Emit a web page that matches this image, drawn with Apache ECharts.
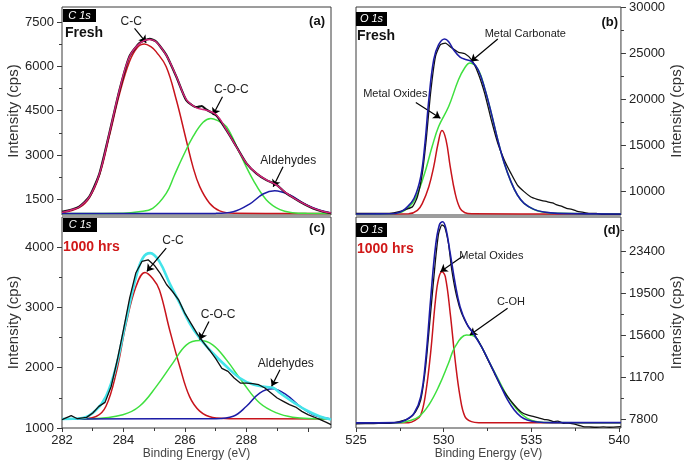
<!DOCTYPE html>
<html>
<head>
<meta charset="utf-8">
<script src="https://cdn.jsdelivr.net/npm/echarts@6/dist/echarts.min.js"></script>
<style>html,body{margin:0;padding:0;background:#fff;}#c{width:685px;height:472px;}</style>
</head>
<body>
<div id="c"></div>
<script>
// ---------- Panel (a): C 1s Fresh ----------
var a_data = [[282.0,1080],[282.3,1150],[282.56,1250],[282.89,1590],[283.22,2380],[283.54,3735],[283.87,5200],[284.19,6330],[284.52,6790],[284.85,6930],[285.06,6840],[285.39,6390],[285.72,5650],[286.04,4860],[286.37,4620],[286.55,4660],[286.69,4540],[287.02,4340],[287.35,3840],[287.67,3290],[288.0,2720],[288.33,2370],[288.65,2150],[288.98,1990],[289.3,1700],[289.74,1420],[290.17,1190],[290.5,1080],[290.75,1030]];
var a_fit = [[282.0,1060],[282.3,1140],[282.56,1240],[282.89,1580],[283.22,2370],[283.54,3730],[283.87,5200],[284.19,6320],[284.52,6770],[284.85,6910],[285.06,6830],[285.39,6380],[285.72,5660],[286.04,4880],[286.37,4600],[286.69,4520],[287.02,4360],[287.35,3850],[287.67,3280],[288.0,2720],[288.33,2380],[288.65,2160],[288.98,1980],[289.3,1710],[289.74,1420],[290.17,1200],[290.5,1090],[290.75,1040]];
var a_cc = [[282.0,1050],[282.56,1220],[282.89,1550],[283.22,2320],[283.54,3640],[283.87,5060],[284.19,6150],[284.45,6640],[284.68,6760],[284.9,6660],[285.06,6500],[285.39,5990],[285.72,4860],[286.04,3510],[286.26,2600],[286.48,1930],[286.8,1370],[287.13,1110],[287.6,1030],[290.75,1020]];
var a_coc = [[282.0,1020],[284.0,1030],[284.5,1080],[284.95,1195],[285.39,1700],[285.65,2300],[285.93,2940],[286.26,3620],[286.59,4110],[286.84,4240],[287.05,4170],[287.35,3960],[287.78,3060],[288.22,2150],[288.65,1480],[289.09,1150],[289.5,1050],[290.0,1025],[290.75,1020]];
var a_ald = [[282.0,1020],[287.0,1025],[287.57,1080],[288.1,1340],[288.54,1680],[288.92,1790],[289.41,1645],[289.96,1310],[290.39,1130],[290.75,1040]];

// ---------- Panel (b): O 1s Fresh ----------
var b_data = [[525.0,7570],[526.0,7560],[526.9,7570],[527.47,7750],[527.84,8000],[528.22,8290],[528.5,9380],[528.78,11920],[529.0,15550],[529.25,20640],[529.53,24630],[529.81,25900],[530.09,26080],[530.46,25540],[530.84,25070],[531.21,24920],[531.58,24270],[531.96,22810],[532.33,20640],[532.71,17730],[533.08,15190],[533.45,13380],[533.83,11920],[534.2,10650],[534.58,9930],[534.95,9380],[535.33,9090],[535.6,8950],[535.89,8840],[536.2,8700],[536.45,8480],[536.7,8350],[537.0,8110],[537.3,8000],[537.57,7820],[537.9,7700],[538.32,7570],[538.7,7560],[539.07,7460],[540.1,7460]];
var b_fit = [[525.0,7500],[527.0,7520],[527.5,7700],[527.84,8110],[528.31,9200],[528.69,11560],[528.93,15190],[529.15,19910],[529.43,24270],[529.71,25900],[530.05,26520],[530.27,26260],[530.56,25360],[530.93,24560],[531.3,24270],[531.58,24080],[531.96,23180],[532.33,21180],[532.71,18460],[533.08,15550],[533.45,13010],[533.83,11020],[534.2,9560],[534.58,8660],[535.14,8000],[535.7,7710],[536.5,7570],[540.1,7500]];
var b_mo = [[525.0,7500],[528.0,7520],[528.5,7900],[528.78,8660],[529.15,10470],[529.43,12650],[529.68,15190],[529.9,16570],[530.13,15550],[530.37,12650],[530.65,9750],[530.93,8110],[531.21,7640],[531.6,7520],[540.1,7500]];
var b_mc = [[525.0,7500],[527.0,7520],[527.66,7750],[528.22,8660],[528.59,10110],[528.97,12290],[529.34,14830],[529.71,17010],[530.28,19180],[530.84,22090],[531.2,23400],[531.49,23900],[531.96,23200],[532.33,21180],[532.71,18460],[533.08,15550],[533.45,13010],[533.83,11020],[534.2,9560],[534.58,8660],[535.33,7860],[536.5,7570],[540.1,7500]];

// ---------- Panel (c): C 1s 1000 hrs ----------
var c_data = [[282.0,1138],[282.3,1204],[282.5,1154],[282.8,1176],[283.0,1249],[283.2,1359],[283.4,1425],[283.6,1690],[283.8,2132],[284.0,2630],[284.2,3155],[284.4,3570],[284.6,3763],[284.8,3790],[285.0,3700],[285.2,3560],[285.4,3380],[285.6,3260],[285.8,3120],[286.0,2900],[286.2,2730],[286.4,2560],[286.6,2420],[286.8,2290],[287.0,2150],[287.2,1990],[287.4,1939],[287.6,1829],[287.8,1746],[288.0,1746],[288.2,1735],[288.4,1718],[288.6,1663],[288.8,1580],[289.0,1497],[289.2,1442],[289.4,1387],[289.6,1348],[289.8,1276],[290.0,1221],[290.2,1182],[290.4,1138],[290.6,1094],[290.75,1055]];
var c_fit = [[282.0,1150],[282.67,1165],[283.11,1300],[283.43,1520],[283.76,2020],[284.09,2800],[284.41,3510],[284.63,3820],[284.87,3900],[285.17,3760],[285.5,3400],[285.83,3070],[286.15,2740],[286.48,2490],[286.91,2240],[287.35,2020],[287.78,1830],[288.22,1720],[288.65,1680],[288.85,1670],[289.09,1580],[289.52,1430],[289.96,1290],[290.39,1190],[290.75,1140]];
var c_cc = [[282.0,1150],[282.67,1155],[283.11,1190],[283.43,1360],[283.76,1910],[284.09,2740],[284.41,3350],[284.7,3580],[284.95,3480],[285.17,3290],[285.5,2630],[285.83,2020],[286.15,1520],[286.48,1280],[286.9,1175],[287.5,1155],[290.75,1150]];
var c_coc = [[282.0,1150],[283.0,1155],[283.98,1220],[284.52,1360],[285.07,1690],[285.61,2080],[286.05,2380],[286.48,2450],[286.9,2380],[287.35,2130],[287.89,1750],[288.43,1415],[288.98,1250],[289.5,1180],[290.2,1155],[290.75,1150]];
var c_ald = [[282.0,1150],[287.0,1155],[287.57,1195],[288.0,1360],[288.43,1580],[288.85,1650],[289.3,1550],[289.74,1360],[290.17,1220],[290.75,1150]];

// ---------- Panel (d): O 1s 1000 hrs ----------
var d_data = [[525.0,7340],[526.0,7380],[526.9,7400],[527.47,7550],[528.03,7860],[528.4,8480],[528.69,9570],[528.97,12660],[529.25,17620],[529.53,22570],[529.71,25050],[529.9,25830],[530.05,25670],[530.27,24120],[530.46,21640],[530.74,19170],[531.02,17620],[531.4,16380],[531.77,15600],[532.15,14520],[532.52,13280],[532.89,12040],[533.27,10800],[533.64,9880],[534.02,9100],[534.39,8480],[534.76,8170],[535.14,8020],[535.4,7900],[535.7,7770],[536.0,7700],[536.26,7550],[536.5,7600],[536.82,7400],[537.1,7420],[537.38,7340],[537.94,7090],[538.3,7060],[538.69,7030],[539.1,7060],[539.44,7030],[540.1,7090]];
var d_fit = [[525.0,7440],[527.28,7460],[527.84,7710],[528.31,8330],[528.69,9880],[528.97,13280],[529.25,18860],[529.53,23810],[529.75,25830],[529.94,26130],[530.12,25520],[530.37,23190],[530.65,20410],[530.93,18240],[531.3,16690],[531.68,15760],[532.15,14520],[532.52,13340],[532.89,12110],[533.27,10800],[533.64,9570],[534.02,8640],[534.39,8020],[534.76,7710],[535.33,7520],[536.2,7460],[540.1,7460]];
var d_mo = [[525.0,7440],[528.0,7450],[528.4,7710],[528.69,8170],[528.97,10190],[529.25,13900],[529.53,18860],[529.71,20870],[529.9,21490],[530.09,21020],[530.37,17620],[530.65,13280],[530.93,9880],[531.21,8020],[531.58,7550],[532.0,7450],[540.1,7440]];
var d_coh = [[525.0,7440],[527.5,7450],[528.0,7610],[528.59,8020],[529.15,9100],[529.71,10800],[530.27,12970],[530.65,14520],[531.3,15600],[531.77,15450],[532.15,14520],[532.52,13340],[533.08,11580],[533.64,9880],[534.2,8640],[534.76,7860],[535.33,7550],[536.2,7460],[540.1,7440]];

// ---------- Axis ticks / labels ----------
var a_yticks = [1500,3000,4500,6000,7500];
var a_yminor = [2250,3750,5250,6750];
var b_yticks = [10000,15000,20000,25000,30000];
var b_yminor = [12500,17500,22500,27500];
var c_yticks = [1000,2000,3000,4000];
var c_yminor = [1500,2500,3500];
var d_yticks = [7800,11700,15600,19500,23400];
var d_yminor = [9750,13650,17550,21450,25350];
var c_xlabels = [282,284,286,288];
var c_xticks = [282,284,286,288,290];
var c_xminor = [283,285,287,289];
var d_xlabels = [525,530,535,540];
var d_xminor = [527.5,532.5,537.5];

// ---------- Annotations: [text, textX, textY, arrowFromX, arrowFromY, arrowToX, arrowToY] ----------
var a_notes = [['C-C',284.25,7503,284.36,7290,284.74,6802],['C-O-C',287.51,5225,287.22,4974,286.91,4354],['Aldehydes',289.36,2807,289.19,2604,288.87,1927]];
var b_notes = [['Metal Carbonate',534.65,27065,533.08,26520,531.55,24081],['Metal Oxides',527.24,20531,528.41,19616,529.81,17917]];
var c_notes = [['C-C',285.61,4111,285.39,3985,284.76,3597],['C-O-C',287.08,2879,286.78,2768,286.48,2464],['Aldehydes',289.28,2066,289.09,1967,288.82,1691]];
var d_notes = [['Metal Oxides',532.71,22975,531.12,22975,529.81,21489],['C-OH',533.83,18701,533.64,18082,531.49,15604]];

var FONT = 'Liberation Sans, Arial, Helvetica, sans-serif';
var chart = echarts.init(document.getElementById('c'), null, {renderer:'canvas'});

function grid(l,t,w,h){return {left:l,top:t,width:w,height:h,show:true,borderColor:'#3a3a3a',borderWidth:1,backgroundColor:'transparent',containLabel:false};}
function plain(v){return String(v);}

function mainX(gi,min,max,labels,ticks,name){
  return {type:'value',gridIndex:gi,min:min,max:max,position:'bottom',
    axisLine:{show:false},splitLine:{show:false},
    axisTick:{show:!!ticks,inside:false,length:4,customValues:ticks||[],lineStyle:{color:'#3a3a3a'}},
    axisLabel:{show:!!labels,customValues:labels||[],formatter:plain,margin:6,fontSize:13,color:'#222',fontFamily:FONT},
    name:name||'',nameLocation:'middle',nameGap:20,nameTextStyle:{fontSize:12,color:'#444',fontFamily:FONT}};
}
function minorX(gi,min,max,ticks){
  return {type:'value',gridIndex:gi,min:min,max:max,position:'bottom',
    axisLine:{show:false},splitLine:{show:false},axisLabel:{show:false},
    axisTick:{show:true,length:3,customValues:ticks,lineStyle:{color:'#3a3a3a'}}};
}
function mainY(gi,min,max,ticks,pos,gap){
  return {type:'value',gridIndex:gi,min:min,max:max,position:pos,
    axisLine:{show:false},splitLine:{show:false},
    axisTick:{show:true,length:5,customValues:ticks,lineStyle:{color:'#3a3a3a'}},
    axisLabel:{show:true,customValues:ticks,formatter:plain,margin:8,fontSize:13,color:'#222',fontFamily:FONT},
    name:'Intensity (cps)',nameLocation:'middle',nameRotate:90,nameGap:gap,
    nameTextStyle:{fontSize:15,color:'#333',fontFamily:FONT}};
}
function minorY(gi,min,max,ticks,pos){
  return {type:'value',gridIndex:gi,min:min,max:max,position:pos,
    axisLine:{show:false},splitLine:{show:false},axisLabel:{show:false},
    axisTick:{show:true,length:3,customValues:ticks,lineStyle:{color:'#3a3a3a'}}};
}

function line(xi,yi,data,color,width,smooth,z){
  return {type:'line',xAxisIndex:xi,yAxisIndex:yi,data:data,showSymbol:false,symbol:'none',
    smooth:smooth,silent:true,z:z,
    lineStyle:{color:color,width:width}};
}
function withNotes(s,notes,fs){
  s.markLine={silent:true,symbol:['none','arrow'],symbolSize:7,animation:false,
    lineStyle:{color:'#000',width:1.2,type:'solid'},label:{show:false},
    data:notes.map(function(n){return [{coord:[n[3],n[4]]},{coord:[n[5],n[6]]}];})};
  s.markPoint={silent:true,animation:false,symbol:'rect',symbolSize:1,itemStyle:{color:'rgba(0,0,0,0)'},
    label:{show:true,position:'inside',formatter:'{b}',color:'#222',fontSize:fs,fontFamily:FONT},
    data:notes.map(function(n){return {name:n[0],coord:[n[1],n[2]]};})};
  return s;
}

var RED='#c8141c', GREEN='#3fe03f', BLUE='#1c1ca6', MAG='#d4237a', CYAN='#44e4ea';
var SM = 0.4;

var series = [
  // (a)
  line(0,0,a_cc,RED,1.5,SM,3),
  line(0,0,a_coc,GREEN,1.5,SM,3),
  line(0,0,a_ald,BLUE,1.5,SM,3),
  withNotes(line(0,0,a_data,'#111',2.2,0.2,4),a_notes,12),
  line(0,0,a_fit,MAG,1.4,SM,5),
  // (b)
  line(1,1,b_mo,RED,1.5,SM,3),
  line(1,1,b_mc,GREEN,1.5,SM,3),
  withNotes(line(1,1,b_data,'#111',1.3,0.2,4),b_notes,11),
  line(1,1,b_fit,BLUE,1.6,SM,5),
  // (c)
  line(2,2,c_cc,RED,1.5,SM,3),
  line(2,2,c_coc,GREEN,1.5,SM,3),
  line(2,2,c_ald,BLUE,1.5,SM,3),
  line(2,2,c_fit,CYAN,2.6,SM,4),
  withNotes(line(2,2,c_data,'#111',1.3,false,5),c_notes,12),
  // (d)
  line(3,3,d_mo,RED,1.5,SM,3),
  line(3,3,d_coh,GREEN,1.5,SM,3),
  withNotes(line(3,3,d_data,'#111',1.3,0.2,4),d_notes,11),
  line(3,3,d_fit,BLUE,1.6,SM,5)
];

function tagBox(x,y,w,h,txt){
  return [{type:'rect',shape:{x:x,y:y,width:w,height:h},style:{fill:'#000'},z:100},
          {type:'text',x:x+w/2,y:y+h/2,style:{text:txt,fill:'#fff',font:'italic 11px '+FONT,textAlign:'center',textVerticalAlign:'middle'},z:101}];
}
function txt(x,y,t,color,font,align){
  return {type:'text',x:x,y:y,style:{text:t,fill:color,font:font,textAlign:align||'left',textVerticalAlign:'middle'},z:101};
}

var graphics = [].concat(
  tagBox(63,9,33,13,'C 1s'), tagBox(356,12,31,14,'O 1s'),
  tagBox(63,218,34,14,'C 1s'), tagBox(356,223,31,14,'O 1s'),
  [txt(65,33,'Fresh','#111','bold 14px '+FONT),
   txt(357,36,'Fresh','#111','bold 14px '+FONT),
   txt(63,247,'1000 hrs','#d01818','bold 14px '+FONT),
   txt(357,249,'1000 hrs','#d01818','bold 14px '+FONT),
   txt(325,21,'(a)','#111','bold 13px '+FONT,'right'),
   txt(618,22,'(b)','#111','bold 13px '+FONT,'right'),
   txt(325,228,'(c)','#111','bold 13px '+FONT,'right'),
   txt(620,230,'(d)','#111','bold 13px '+FONT,'right')]
);

chart.setOption({
  animation:false,
  backgroundColor:'#fff',
  grid:[grid(62,7,269,208),grid(356,7,269,208),grid(62,217,269,211),grid(356,217,269,211)],
  xAxis:[
    mainX(0,282,290.75,null,null,''),
    mainX(1,525,540.1,null,null,''),
    mainX(2,282,290.75,c_xlabels,c_xticks,'Binding Energy (eV)'),
    mainX(3,525,540.1,d_xlabels,d_xlabels,'Binding Energy (eV)'),
    minorX(2,282,290.75,c_xminor),
    minorX(3,525,540.1,d_xminor)
  ],
  yAxis:[
    mainY(0,970,8010,a_yticks,'left',33),
    mainY(1,7390,30000,b_yticks,'right',42),
    mainY(2,1000,4500,c_yticks,'left',33),
    mainY(3,6960,26570,d_yticks,'right',42),
    minorY(0,970,8010,a_yminor,'left'),
    minorY(1,7390,30000,b_yminor,'right'),
    minorY(2,1000,4500,c_yminor,'left'),
    minorY(3,6960,26570,d_yminor,'right')
  ],
  series:series,
  graphic:graphics
});
</script>
</body>
</html>
